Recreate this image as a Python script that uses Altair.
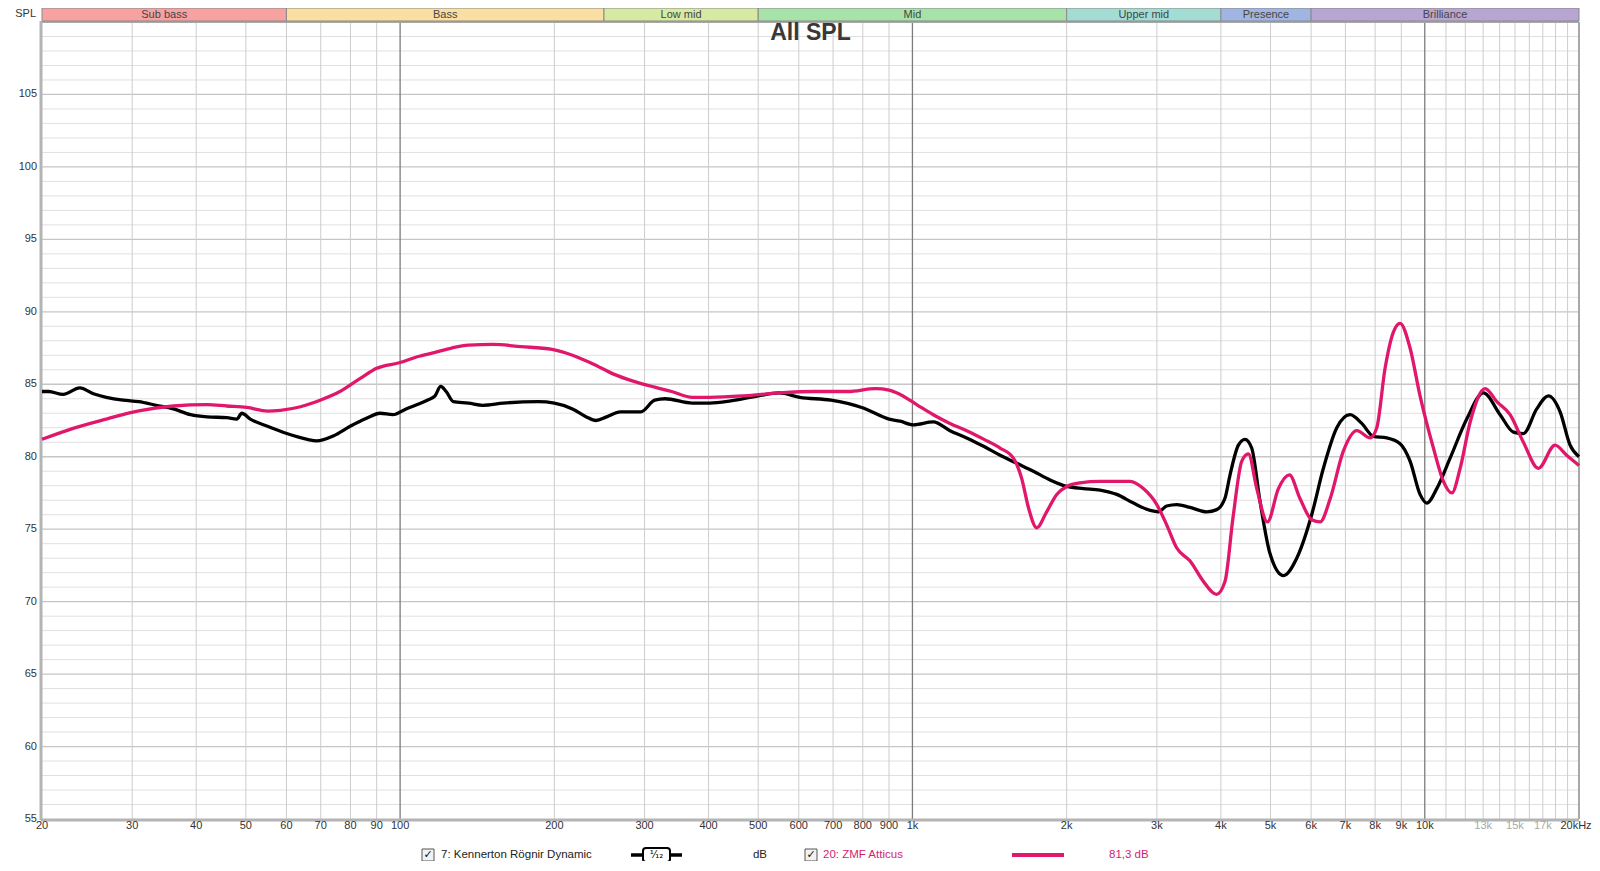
import altair as alt
import pandas as pd
import numpy as np

W, H = 1537, 797
FONT = "Liberation Sans"

# ---- data ----
k_freq = [20, 20.6, 22, 23.7, 25.2, 26.7, 28.8, 30.9, 33.4, 36.1, 39, 42, 45.9, 48, 49.1, 51, 55.1, 60.1,
          65.9, 68.7, 74.2, 79.9, 86, 91.4, 96.8, 102.7, 108, 113, 117, 120, 123, 127, 136, 145, 159, 186,
          200, 217, 231, 241, 253, 269, 295, 314, 329, 372, 402, 442, 500, 549, 603, 693, 796, 900, 946,
          1005, 1098, 1184, 1276, 1380, 1483, 1598, 1722, 1856, 2001, 2156, 2324, 2505, 2700, 2910, 3020,
          3135, 3281, 3483, 3754, 3926, 4075, 4168, 4327, 4458, 4594, 4770, 4989, 5297, 5624, 6016, 6340,
          6734, 7150, 7534, 7938, 8430, 8950, 9360, 9790, 10090, 10554, 11206, 12076, 13018, 14030, 14894,
          15578, 16540, 17430, 18372, 19214, 20000]
k_db = [84.5, 84.5, 84.3, 84.75, 84.35, 84.1, 83.9, 83.8, 83.55, 83.3, 82.9, 82.75, 82.7, 82.6, 83.0, 82.6,
        82.1, 81.6, 81.2, 81.1, 81.45, 82.1, 82.65, 83.0, 82.9, 83.3, 83.6, 83.9, 84.2, 84.85, 84.5, 83.8,
        83.7, 83.55, 83.7, 83.8, 83.7, 83.3, 82.75, 82.5, 82.75, 83.1, 83.1, 83.9, 84.0, 83.7, 83.7, 83.85,
        84.2, 84.4, 84.1, 83.9, 83.4, 82.6, 82.45, 82.2, 82.4, 81.8, 81.3, 80.7, 80.1, 79.55, 79.0, 78.4,
        77.95, 77.8, 77.7, 77.4, 76.8, 76.3, 76.2, 76.6, 76.7, 76.5, 76.2, 76.35, 77.15, 78.75, 80.8, 81.2,
        80.6, 76.9, 73.3, 71.8, 73.0, 76.0, 79.2, 82.0, 82.9, 82.3, 81.4, 81.3, 80.9, 79.7, 77.4, 76.8, 77.8,
        79.9, 82.6, 84.4, 82.9, 81.7, 81.6, 83.3, 84.2, 83.1, 80.8, 80.0]

z_freq = [20, 23, 26.7, 30.9, 36.1, 42, 45.9, 50.2, 55.1, 58.4, 63.9, 69.8, 76.3, 83.6, 90, 100, 108, 117,
          126, 136, 152, 172, 198, 217, 238, 261, 286, 314, 339, 372, 402, 469, 549, 641, 749, 846, 900, 946,
          1019, 1098, 1184, 1276, 1380, 1483, 1574, 1634, 1684, 1748, 1828, 1913, 2001, 2124, 2324, 2660,
          2823, 2999, 3135, 3281, 3483, 3697, 3924, 4075, 4224, 4394, 4526, 4700, 4930, 5180, 5442, 5710,
          6016, 6248, 6536, 6938, 7368, 7824, 8060, 8366, 8684, 8950, 9360, 9790, 10396, 10874, 11292,
          11722, 12264, 13118, 13824, 14674, 15578, 16662, 17960, 18924, 20000]
z_db = [81.2, 81.96, 82.6, 83.17, 83.5, 83.6, 83.5, 83.4, 83.15, 83.2, 83.45, 83.9, 84.5, 85.4, 86.1, 86.5,
        86.9, 87.2, 87.5, 87.7, 87.75, 87.6, 87.4, 87.0, 86.4, 85.7, 85.2, 84.8, 84.5, 84.1, 84.1, 84.2, 84.4,
        84.5, 84.5, 84.7, 84.6, 84.3, 83.6, 82.9, 82.3, 81.8, 81.2, 80.6, 79.9, 78.5, 76.5, 75.1, 76.2, 77.4,
        77.95, 78.2, 78.3, 78.3, 77.8, 76.7, 75.3, 73.7, 72.8, 71.4, 70.5, 71.4, 75.8, 79.7, 80.2, 77.8, 75.5,
        77.8, 78.75, 77.1, 75.65, 75.5, 77.1, 80.4, 81.8, 81.3, 82.0, 86.1, 88.6, 89.2, 87.5, 84.2, 80.6,
        78.3, 77.5, 79.2, 82.4, 84.7, 83.8, 82.9, 81.0, 79.2, 80.8, 80.1, 79.4]

band_names = ["Sub bass", "Bass", "Low mid", "Mid", "Upper mid", "Presence", "Brilliance"]
band_lo = [20, 60, 250, 500, 2000, 4000, 6000]
band_hi = [60, 250, 500, 2000, 4000, 6000, 20000]
band_colors = ["#f7a1a1", "#f9dfa1", "#d6eaa2", "#a7e2a9", "#a3dcd3", "#a1b5e2", "#b7a5d2"]

x_tick_vals = [20, 30, 40, 50, 60, 70, 80, 90, 100, 200, 300, 400, 500, 600, 700, 800, 900,
               1000, 2000, 3000, 4000, 5000, 6000, 7000, 8000, 9000, 10000]
x_tick_text = ["20", "30", "40", "50", "60", "70", "80", "90", "100", "200", "300", "400", "500", "600",
               "700", "800", "900", "1k", "2k", "3k", "4k", "5k", "6k", "7k", "8k", "9k", "10k"]
x_gray_vals = [13000, 15000, 17000]
x_gray_text = ["13k", "15k", "17k"]
x_end_val = [20000]
x_end_text = ["20kHz"]
y_tick_vals = [55, 60, 65, 70, 75, 80, 85, 90, 95, 100, 105]

grid_minor_x = [30, 40, 50, 60, 70, 80, 90, 200, 300, 400, 500, 600, 700, 800, 900,
                2000, 3000, 4000, 5000, 6000, 7000, 8000, 9000,
                11000, 12000, 13000, 14000, 15000, 16000, 17000, 18000, 19000]
grid_major_x = [100, 1000, 10000]
grid_y_all = list(range(56, 110))

# ---- scales ----
xs = alt.Scale(type="log", domain=[20, 20000], nice=False)
ys = alt.Scale(domain=[55, 110], nice=False, zero=False)
one = pd.DataFrame({"a": [0]})

def X(field):
    return alt.X(field, type="quantitative", scale=xs, axis=None)

def Y(field):
    return alt.Y(field, type="quantitative", scale=ys, axis=None)

layers = []

# horizontal grid
gy = pd.DataFrame({"y": grid_y_all, "major": [v % 5 == 0 for v in grid_y_all]})
layers.append(alt.Chart(gy[~gy.major]).mark_rule(color="#e0e0e0", strokeWidth=1).encode(
    y=Y("y"), x=alt.value(0), x2=alt.value(W)))
layers.append(alt.Chart(gy[gy.major]).mark_rule(color="#c6c6c6", strokeWidth=1.3).encode(
    y=Y("y"), x=alt.value(0), x2=alt.value(W)))
# vertical grid
layers.append(alt.Chart(pd.DataFrame({"f": grid_minor_x})).mark_rule(color="#cdcdcd", strokeWidth=1).encode(
    x=X("f"), y=alt.value(0), y2=alt.value(H)))
layers.append(alt.Chart(pd.DataFrame({"f": grid_major_x})).mark_rule(color="#7c7c7c", strokeWidth=1.3).encode(
    x=X("f"), y=alt.value(0), y2=alt.value(H)))

# frame
layers.append(alt.Chart(one).mark_rule(color="#a8a8a8", strokeWidth=2).encode(
    x=alt.value(0), x2=alt.value(W), y=alt.value(0)))
layers.append(alt.Chart(one).mark_rule(color="#a8a8a8", strokeWidth=2).encode(
    x=alt.value(W), y=alt.value(0), y2=alt.value(H)))
layers.append(alt.Chart(one).mark_rule(color="#b4b4b4", strokeWidth=3).encode(
    x=alt.value(-1), y=alt.value(-1), y2=alt.value(H + 1)))
layers.append(alt.Chart(one).mark_rule(color="#b4b4b4", strokeWidth=3).encode(
    x=alt.value(-1), x2=alt.value(W), y=alt.value(H + 1)))

# frequency band header
bands = pd.DataFrame({"name": band_names, "lo": band_lo, "hi": band_hi})
bands["mid"] = np.sqrt(bands["lo"] * bands["hi"])
layers.append(alt.Chart(bands).mark_rect(stroke="#8a8a8a", strokeWidth=1).encode(
    x=X("lo"), x2="hi", y=alt.value(-14), y2=alt.value(-1),
    color=alt.Color("name:N", scale=alt.Scale(domain=band_names, range=band_colors), legend=None)))
layers.append(alt.Chart(bands).mark_text(font=FONT, fontSize=11, color="#454545", baseline="middle").encode(
    x=X("mid"), y=alt.value(-7), text="name:N"))
layers.append(alt.Chart(one).mark_text(font=FONT, fontSize=11, color="#333333", align="right",
                                       baseline="middle", text="SPL").encode(
    x=alt.value(-6), y=alt.value(-8)))

# curves
dk = pd.DataFrame({"f": k_freq, "db": k_db})
dz = pd.DataFrame({"f": z_freq, "db": z_db})
layers.append(alt.Chart(dk).mark_line(color="#000000", strokeWidth=3.3, interpolate="monotone").encode(
    x=X("f"), y=Y("db")))
layers.append(alt.Chart(dz).mark_line(color="#e0176a", strokeWidth=3.3, interpolate="monotone").encode(
    x=X("f"), y=Y("db")))

# title
layers.append(alt.Chart(one).mark_text(font=FONT, fontSize=23, fontWeight="bold", color="#383838",
                                       baseline="middle", text="All SPL").encode(
    x=alt.value(W / 2), y=alt.value(11)))

# y labels
layers.append(alt.Chart(pd.DataFrame({"v": y_tick_vals})).mark_text(
    font=FONT, fontSize=11, color="#333333", align="right", baseline="middle").encode(
    y=Y("v"), x=alt.value(-5), text=alt.Text("v:Q")))

# x labels
layers.append(alt.Chart(pd.DataFrame({"f": x_tick_vals, "t": x_tick_text})).mark_text(
    font=FONT, fontSize=11, color="#333333", baseline="top").encode(
    x=X("f"), y=alt.value(H + 1), text="t:N"))
layers.append(alt.Chart(pd.DataFrame({"f": x_gray_vals, "t": x_gray_text})).mark_text(
    font=FONT, fontSize=11, color="#a8a8a8", baseline="top").encode(
    x=X("f"), y=alt.value(H + 1), text="t:N"))
layers.append(alt.Chart(pd.DataFrame({"f": x_end_val, "t": x_end_text})).mark_text(
    font=FONT, fontSize=11, color="#333333", baseline="top", dx=-3).encode(
    x=X("f"), y=alt.value(H + 1), text="t:N"))

# legend row
LY = H + 36
PINK_T = "#d21f6c"
for cx in [386, 769]:
    layers.append(alt.Chart(one).mark_rect(fill="#f2f2f2", stroke="#555555", strokeWidth=1).encode(
        x=alt.value(cx - 6), x2=alt.value(cx + 6), y=alt.value(LY - 6), y2=alt.value(LY + 6)))
    layers.append(alt.Chart(one).mark_text(font="DejaVu Sans", fontSize=11, fontWeight="bold",
                                           color="#111111", baseline="middle", text="✓").encode(
        x=alt.value(cx), y=alt.value(LY)))
layers.append(alt.Chart(one).mark_text(font=FONT, fontSize=11.5, color="#222222", align="left",
                                       baseline="middle", text="7: Kennerton Rögnir Dynamic").encode(
    x=alt.value(399), y=alt.value(LY)))
layers.append(alt.Chart(one).mark_rule(color="#000000", strokeWidth=3.5).encode(
    x=alt.value(589), x2=alt.value(640), y=alt.value(LY)))
layers.append(alt.Chart(one).mark_rect(fill="#ffffff", stroke="#000000", strokeWidth=2, cornerRadius=3).encode(
    x=alt.value(601), x2=alt.value(628), y=alt.value(LY - 7), y2=alt.value(LY + 7)))
layers.append(alt.Chart(one).mark_text(font="DejaVu Sans", fontSize=10, color="#000000",
                                       baseline="middle", text="¹⁄₁₂").encode(
    x=alt.value(614.5), y=alt.value(LY)))
layers.append(alt.Chart(one).mark_text(font=FONT, fontSize=11.5, color="#222222",
                                       baseline="middle", text="dB").encode(
    x=alt.value(718), y=alt.value(LY)))
layers.append(alt.Chart(one).mark_text(font=FONT, fontSize=11.5, color=PINK_T, align="left",
                                       baseline="middle", text="20: ZMF Atticus").encode(
    x=alt.value(781), y=alt.value(LY)))
layers.append(alt.Chart(one).mark_rule(color="#e0176a", strokeWidth=4).encode(
    x=alt.value(970), x2=alt.value(1022), y=alt.value(LY)))
layers.append(alt.Chart(one).mark_text(font=FONT, fontSize=11.5, color=PINK_T, align="left",
                                       baseline="middle", text="81,3 dB").encode(
    x=alt.value(1067), y=alt.value(LY)))

chart = alt.layer(*layers).properties(
    width=W, height=H,
    autosize=alt.AutoSizeParams(type="none"),
    padding={"left": 34, "top": 14, "right": 13, "bottom": 42},
    background="#ffffff",
).configure_view(stroke="transparent")

chart.save("out.html", embed_options={"renderer": "svg", "actions": False})
